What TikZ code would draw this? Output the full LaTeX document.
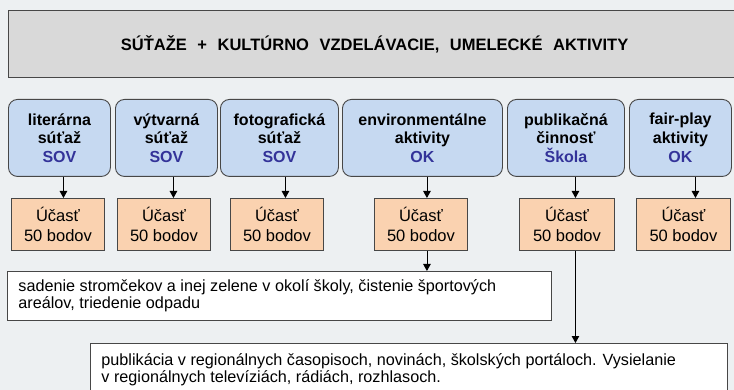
\documentclass[tikz,border=0pt]{standalone}
\usepackage{fontspec}
\setmainfont{Liberation Sans}
\usetikzlibrary{arrows.meta}
\definecolor{bg}{HTML}{EDF0F2}
\definecolor{titlefill}{HTML}{D9D9D9}
\definecolor{bluefill}{HTML}{C6D9F1}
\definecolor{orangefill}{HTML}{FAD2B0}
\definecolor{bluetext}{HTML}{333399}
\definecolor{edge}{HTML}{474747}
\newcommand{\wsp}{\hspace{6pt} }
\begin{document}
\begin{tikzpicture}[x=1pt,y=-1pt,
  titlebox/.style={draw=edge,line width=1.2pt,fill=titlefill,anchor=north west,
    minimum width=740pt,minimum height=67pt,inner sep=0pt,
    font=\fontsize{16.5}{19}\selectfont\bfseries},
  actbox/.style={draw=edge,line width=0.9pt,fill=bluefill,rounded corners=9pt,
    anchor=north west,minimum height=77pt,inner sep=0pt,align=center,
    font=\fontsize{16}{18.7}\selectfont\bfseries},
  ptsbox/.style={draw=edge,line width=0.9pt,fill=orangefill,anchor=north west,
    minimum width=93pt,minimum height=52pt,inner sep=0pt,align=center,
    font=\fontsize{16.5}{20.5}\selectfont},
  notebox/.style={draw=edge,line width=0.9pt,fill=white,anchor=north west,
    inner xsep=0pt,inner ysep=0pt,align=left,
    font=\fontsize{16.2}{17.5}\selectfont},
  arr/.style={draw=black,line width=0.9pt,-{Triangle[length=7pt,width=7.5pt]}}]
\useasboundingbox (0,0) rectangle (734,390);
\clip (0,0) rectangle (734,390);
\fill[bg] (0,0) rectangle (734,390);

\node[titlebox] (t) at (8,10) {\hspace*{-8pt}SÚŤAŽE\wsp+\wsp KULTÚRNO\wsp VZDELÁVACIE,\wsp UMELECKÉ\wsp AKTIVITY};

\node[actbox,minimum width=102pt] (b1) at (8,99) {literárna\\súťaž\\\textcolor{bluetext}{SOV}};
\node[actbox,minimum width=102pt] (b2) at (115,99) {výtvarná\\súťaž\\\textcolor{bluetext}{SOV}};
\node[actbox,minimum width=118pt] (b3) at (220,99) {fotografická\\súťaž\\\textcolor{bluetext}{SOV}};
\node[actbox,minimum width=160pt] (b4) at (342,99) {environmentálne\\aktivity\\\textcolor{bluetext}{OK}};
\node[actbox,minimum width=117pt] (b5) at (507,99) {publikačná\\činnosť\\\textcolor{bluetext}{Škola}};
\node[actbox,minimum width=102pt] (b6) at (629,99) {fair-play\\aktivity\\\textcolor{bluetext}{OK}};

\node[ptsbox] (o1) at (11,198) {Účasť\\50 bodov};
\node[ptsbox] (o2) at (117,198) {Účasť\\50 bodov};
\node[ptsbox] (o3) at (230,198) {Účasť\\50 bodov};
\node[ptsbox] (o4) at (374,198) {Účasť\\50 bodov};
\node[ptsbox,minimum width=95pt] (o5) at (519,198) {Účasť\\50 bodov};
\node[ptsbox,minimum width=94pt] (o6) at (636,198) {Účasť\\50 bodov};

\node[notebox,minimum width=544pt,minimum height=49pt] (w1) at (7,271)
  {\parbox{522pt}{sadenie stromčekov a inej zelene v okolí školy, čistenie športových\\areálov, triedenie odpadu}};
\node[notebox,minimum width=637pt] (w2) at (90,343)
  {\parbox[t][62pt][t]{615pt}{\vspace{10pt}publikácia v regionálnych časopisoch, novinách, školských portáloch. Vysielanie\\v regionálnych televíziách, rádiách, rozhlasoch.}};

\draw[arr] ([xshift=4pt]b1.south) -- ([xshift=4pt]b1.south |- o1.north);
\draw[arr] ([xshift=7pt]b2.south) -- ([xshift=7pt]b2.south |- o2.north);
\draw[arr] ([xshift=6pt]b3.south) -- ([xshift=6pt]b3.south |- o3.north);
\draw[arr] ([xshift=6pt]o4.north |- b4.south) -- ([xshift=6pt]o4.north);
\draw[arr] ([xshift=8.5pt]o5.north |- b5.south) -- ([xshift=8.5pt]o5.north);
\draw[arr] ([xshift=12pt]o6.north |- b6.south) -- ([xshift=12pt]o6.north);
\draw[arr] ([xshift=6pt]o4.south) -- ([xshift=6pt]o4.south |- w1.north);
\draw[arr] ([xshift=8.5pt]o5.south) -- ([xshift=8.5pt]o5.south |- w2.north);
\end{tikzpicture}
\end{document}
